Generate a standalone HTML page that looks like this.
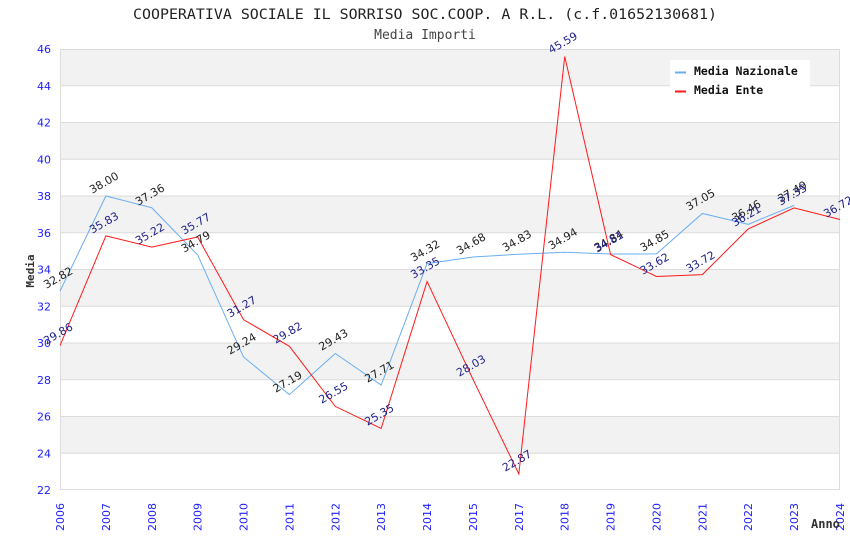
<!DOCTYPE html>
<html><head><meta charset="utf-8"><style>
html,body{margin:0;padding:0;background:#fff;}
svg{display:block;}
.t{font-family:"DejaVu Sans Mono","Liberation Mono",monospace;}
.s{font-family:"DejaVu Sans","Liberation Sans",sans-serif;}
</style></head><body>
<svg width="850" height="550" viewBox="0 0 850 550" xmlns="http://www.w3.org/2000/svg">
<rect x="0" y="0" width="850" height="550" fill="#fff"/>
<g fill="#f2f2f2">
<rect x="60" y="49" width="780" height="36.75"/>
<rect x="60" y="122.5" width="780" height="36.75"/>
<rect x="60" y="196" width="780" height="36.75"/>
<rect x="60" y="269.5" width="780" height="36.75"/>
<rect x="60" y="343" width="780" height="36.75"/>
<rect x="60" y="416.5" width="780" height="36.75"/>
</g>
<g stroke="#dcdcdc" stroke-width="1">
<line x1="60" x2="840" y1="49.5" y2="49.5"/>
<line x1="60" x2="840" y1="85.75" y2="85.75"/>
<line x1="60" x2="840" y1="122.5" y2="122.5"/>
<line x1="60" x2="840" y1="159.25" y2="159.25"/>
<line x1="60" x2="840" y1="196" y2="196"/>
<line x1="60" x2="840" y1="232.75" y2="232.75"/>
<line x1="60" x2="840" y1="269.5" y2="269.5"/>
<line x1="60" x2="840" y1="306.25" y2="306.25"/>
<line x1="60" x2="840" y1="343" y2="343"/>
<line x1="60" x2="840" y1="379.75" y2="379.75"/>
<line x1="60" x2="840" y1="416.5" y2="416.5"/>
<line x1="60" x2="840" y1="453.25" y2="453.25"/>
<line x1="60" x2="840" y1="489.5" y2="489.5"/>
<line x1="60.5" x2="60.5" y1="49" y2="490"/>
<line x1="839.5" x2="839.5" y1="49" y2="490"/>
</g>
<text class="t" x="133" y="19" font-size="14" textLength="584" lengthAdjust="spacingAndGlyphs" fill="#222">COOPERATIVA SOCIALE IL SORRISO SOC.COOP. A R.L. (c.f.01652130681)</text>
<text class="t" x="425" y="39" font-size="13" text-anchor="middle" fill="#444">Media Importi</text>
<g class="s" font-size="11" fill="#2020ff" text-anchor="end">
<text x="51" y="53">46</text>
<text x="51" y="90">44</text>
<text x="51" y="126.5">42</text>
<text x="51" y="163.5">40</text>
<text x="51" y="200">38</text>
<text x="51" y="237">36</text>
<text x="51" y="273.5">34</text>
<text x="51" y="310.5">32</text>
<text x="51" y="347">30</text>
<text x="51" y="384">28</text>
<text x="51" y="420.5">26</text>
<text x="51" y="457.5">24</text>
<text x="51" y="494">22</text>
</g>
<g class="s" font-size="11" fill="#2020ff" text-anchor="end">
<text transform="translate(64,503) rotate(-90)">2006</text>
<text transform="translate(109.88,503) rotate(-90)">2007</text>
<text transform="translate(155.76,503) rotate(-90)">2008</text>
<text transform="translate(201.65,503) rotate(-90)">2009</text>
<text transform="translate(247.53,503) rotate(-90)">2010</text>
<text transform="translate(293.41,503) rotate(-90)">2011</text>
<text transform="translate(339.29,503) rotate(-90)">2012</text>
<text transform="translate(385.18,503) rotate(-90)">2013</text>
<text transform="translate(431.06,503) rotate(-90)">2014</text>
<text transform="translate(476.94,503) rotate(-90)">2015</text>
<text transform="translate(522.82,503) rotate(-90)">2017</text>
<text transform="translate(568.71,503) rotate(-90)">2018</text>
<text transform="translate(614.59,503) rotate(-90)">2019</text>
<text transform="translate(660.47,503) rotate(-90)">2020</text>
<text transform="translate(706.35,503) rotate(-90)">2021</text>
<text transform="translate(752.24,503) rotate(-90)">2022</text>
<text transform="translate(798.12,503) rotate(-90)">2023</text>
<text transform="translate(844,503) rotate(-90)">2024</text>
</g>
<text class="t" transform="translate(34,271) rotate(-90)" font-size="11" font-weight="bold" fill="#333" text-anchor="middle">Media</text>
<text class="t" x="811" y="528" font-size="12" font-weight="bold" fill="#333">Anno</text>
<polyline fill="none" stroke="#6aaef0" stroke-width="1" points="60,291.18 105.88,196 151.76,207.76 197.65,254.98 243.53,356.96 289.41,394.63 335.29,353.47 381.18,385.08 427.06,263.62 472.94,257 518.82,254.25 564.71,252.23 610.59,254.06 656.47,253.88 702.35,213.46 748.24,224.3 794.12,205.37"/>
<polyline fill="none" stroke="#ff1a1a" stroke-width="1" points="60,345.57 105.88,235.87 151.76,247.08 197.65,236.98 243.53,319.66 289.41,346.31 335.29,406.39 381.18,428.44 427.06,281.44 472.94,379.2 518.82,474.01 564.71,56.53 610.59,254.62 656.47,276.48 702.35,274.64 748.24,228.89 794.12,207.94 840,219.52"/>
<g class="s" font-size="11" fill="#222" text-anchor="middle">
<text transform="translate(60,281) rotate(-30)">32.82</text>
<text transform="translate(105.88,186) rotate(-30)">38.00</text>
<text transform="translate(151.76,198) rotate(-30)">37.36</text>
<text transform="translate(197.65,245) rotate(-30)">34.79</text>
<text transform="translate(243.53,347) rotate(-30)">29.24</text>
<text transform="translate(289.41,385) rotate(-30)">27.19</text>
<text transform="translate(335.29,343) rotate(-30)">29.43</text>
<text transform="translate(381.18,375) rotate(-30)">27.71</text>
<text transform="translate(427.06,254) rotate(-30)">34.32</text>
<text transform="translate(472.94,247) rotate(-30)">34.68</text>
<text transform="translate(518.82,244) rotate(-30)">34.83</text>
<text transform="translate(564.71,242) rotate(-30)">34.94</text>
<text transform="translate(610.59,244) rotate(-30)">34.84</text>
<text transform="translate(656.47,244) rotate(-30)">34.85</text>
<text transform="translate(702.35,203) rotate(-30)">37.05</text>
<text transform="translate(748.24,214) rotate(-30)">36.46</text>
<text transform="translate(794.12,195) rotate(-30)">37.49</text>
</g>
<g class="s" font-size="11" fill="#22228b" text-anchor="middle">
<text transform="translate(60,337) rotate(-30)">29.86</text>
<text transform="translate(105.88,226) rotate(-30)">35.83</text>
<text transform="translate(151.76,237) rotate(-30)">35.22</text>
<text transform="translate(197.65,227) rotate(-30)">35.77</text>
<text transform="translate(243.53,310) rotate(-30)">31.27</text>
<text transform="translate(289.41,336) rotate(-30)">29.82</text>
<text transform="translate(335.29,396) rotate(-30)">26.55</text>
<text transform="translate(381.18,418) rotate(-30)">25.35</text>
<text transform="translate(427.06,271) rotate(-30)">33.35</text>
<text transform="translate(472.94,369) rotate(-30)">28.03</text>
<text transform="translate(518.82,464) rotate(-30)">22.87</text>
<text transform="translate(564.71,46) rotate(-30)">45.59</text>
<text transform="translate(610.59,245) rotate(-30)">34.81</text>
<text transform="translate(656.47,267) rotate(-30)">33.62</text>
<text transform="translate(702.35,265) rotate(-30)">33.72</text>
<text transform="translate(748.24,219) rotate(-30)">36.21</text>
<text transform="translate(794.12,198) rotate(-30)">37.35</text>
<text transform="translate(840,210) rotate(-30)">36.72</text>
</g>
<rect x="670" y="60" width="140" height="40" fill="#fff"/>
<line x1="675" x2="686" y1="72.5" y2="72.5" stroke="#6aaef0" stroke-width="2"/>
<line x1="675" x2="686" y1="91.5" y2="91.5" stroke="#ff1a1a" stroke-width="2"/>
<text class="t" x="694" y="75" font-size="11.5" font-weight="bold" fill="#111">Media Nazionale</text>
<text class="t" x="694" y="94" font-size="11.5" font-weight="bold" fill="#111">Media Ente</text>
</svg>
</body></html>
